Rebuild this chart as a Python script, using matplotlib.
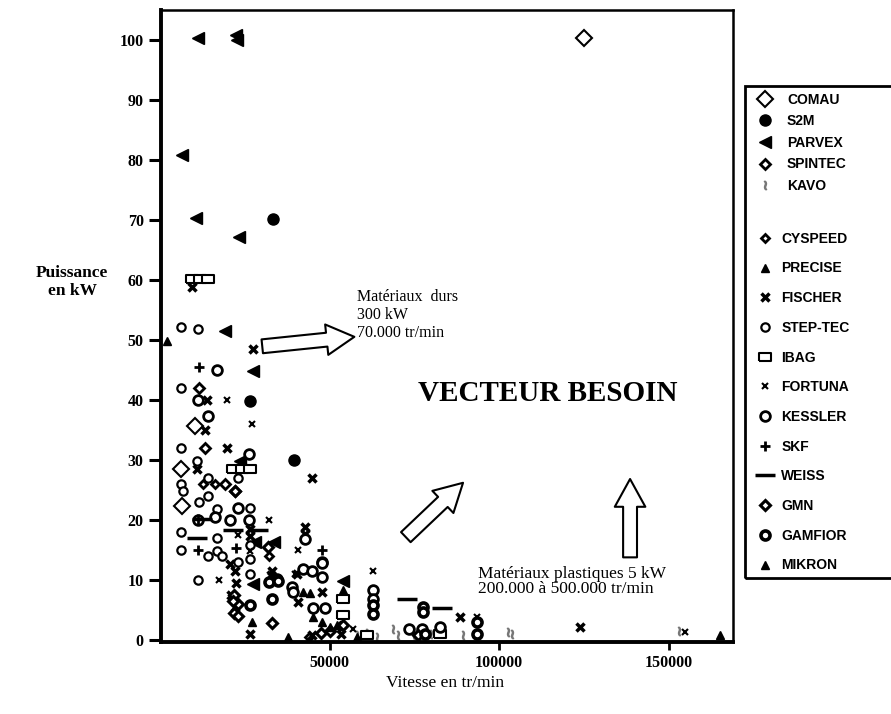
import matplotlib
matplotlib.use("Agg")
import matplotlib.pyplot as plt
from matplotlib.patches import Rectangle

# vitesse (tr/min) / puissance (kW)
comau_x = [125000, 10300, 6200, 6500]
comau_y = [100.3, 35.7, 28.5, 22.4]

s2m_x = [33300, 39500, 26500]
s2m_y = [70.2, 30.0, 39.8]

parvex_x = [11300, 22300, 22600, 6500, 10700, 23200, 19200, 27300, 23600, 28000, 33600, 27300, 54000]
parvex_y = [100.3, 100.9, 100.1, 80.8, 70.4, 67.2, 51.6, 44.8, 29.9, 16.4, 16.3, 9.4, 9.8]

spintec_x = [11500, 13300, 19200, 22100]
spintec_y = [42.1, 32.0, 26.1, 24.9]

kavo_x = [58000, 61000, 68800, 70300, 75000, 80000, 89500, 102700, 103700, 153000, 64000]
kavo_y = [0.8, 1.2, 1.9, 0.8, 0.8, 1.1, 0.8, 1.4, 1.1, 1.6, 0.6]

cyspeed_x = [12800, 16200, 32200, 31900, 32900, 44000, 53000]
cyspeed_y = [26.1, 26.1, 14.1, 15.5, 2.9, 0.6, 2.3]

precise_x = [2000, 27000, 37900, 165200, 45000, 58000]
precise_y = [49.8, 3.1, 0.6, 0.8, 3.9, 0.5]

fischer_x = [9500, 27300, 14000, 19700, 13300, 44700, 10800, 26500, 26500, 20600, 22100, 32900,
             32600, 40300, 40800, 42800, 42800, 47700, 26500, 44700, 123900, 88500, 21000, 22000,
             22500, 53500]
fischer_y = [58.9, 48.5, 40.1, 32.0, 35.0, 27.1, 28.5, 18.5, 17.3, 12.7, 11.6, 11.6,
             10.8, 11.1, 6.4, 18.8, 17.7, 8.0, 1.1, 0.8, 2.2, 3.9, 7.5, 5.5,
             9.5, 1.0]

steptec_x = [6100, 6100, 6100, 6100, 6900, 6100, 6100, 11100, 10800, 14300, 11500, 16700, 11300,
             14300, 16700, 18300, 14300, 23100, 16700, 26500, 26500, 26500, 23100, 26500]
steptec_y = [52.2, 42.1, 32.0, 26.1, 24.9, 18.0, 15.1, 51.9, 29.9, 24.1, 23.0, 21.9, 10.1,
             14.1, 14.9, 14.1, 27.1, 27.1, 17.0, 15.8, 13.6, 11.1, 13.0, 22.0]

ibag_x = [9300, 11800, 14200, 21600, 24100, 26500, 54000, 54000, 61000, 82600]
ibag_y = [60.2, 60.2, 60.2, 28.6, 28.6, 28.6, 6.9, 4.2, 0.9, 1.1]

fortuna_x = [19900, 27000, 32200, 26500, 17400, 40800, 39800, 57000, 62900, 93400, 154900, 23000]
fortuna_y = [40.0, 36.1, 20.1, 14.9, 10.0, 15.0, 11.1, 1.9, 11.6, 3.9, 1.4, 17.5]

kessler_x = [16700, 11300, 14300, 11300, 16200, 20600, 26300, 23100, 26300, 42800, 47700, 42300,
             44700, 47700, 34400, 38800, 39300, 48700, 45000, 62900, 62900, 73300, 77200, 82600, 47700]
kessler_y = [45.1, 40.1, 37.3, 20.0, 20.5, 20.0, 20.1, 22.0, 31.0, 16.9, 13.0, 11.9,
             11.6, 10.5, 10.2, 8.9, 8.0, 5.4, 5.3, 8.3, 6.9, 1.9, 1.9, 2.2, 12.9]

skf_x = [11500, 11300, 47700, 11300, 22300]
skf_y = [45.5, 15.1, 15.1, 20.2, 15.3]

weiss_x = [11000, 21500, 28900, 72800, 83100, 12500]
weiss_y = [17.1, 18.3, 18.3, 6.9, 5.3, 20.2]

gmn_x = [22100, 31900, 32900, 21800, 23000, 21800, 54000, 76000, 47500, 50000, 21500, 23000]
gmn_y = [24.9, 15.5, 2.9, 7.5, 6.0, 4.5, 2.5, 0.8, 1.2, 1.5, 6.5, 4.0]

gamfior_x = [62900, 62900, 32200, 34900, 26500, 32900, 78200, 93400, 93400, 77700, 77700]
gamfior_y = [5.8, 4.4, 9.7, 9.8, 5.8, 6.9, 1.1, 3.0, 1.1, 5.5, 4.7]

mikron_x = [42300, 44200, 47700, 50200, 52200, 54000]
mikron_y = [8.0, 7.8, 3.1, 2.2, 2.5, 8.3]

plt.rcParams['font.family'] = ['Liberation Serif', 'DejaVu Serif']

rect = [(-1.6, -1), (1.6, -1), (1.6, 1), (-1.6, 1), (-1.6, -1)]

groupe1 = [
    ("COMAU", comau_x, comau_y, dict(marker='D', ms=8, mfc='white', mec='k', mew=1.5)),
    ("S2M", s2m_x, s2m_y, dict(marker='o', ms=8, mfc='k', mec='k')),
    ("PARVEX", parvex_x, parvex_y, dict(marker='<', ms=9, mfc='k', mec='k')),
    ("SPINTEC", spintec_x, spintec_y, dict(marker='D', ms=5, mfc='white', mec='k', mew=2)),
    ("KAVO", kavo_x, kavo_y, dict(marker=r'$\wr$', ms=6, mfc='#777777', mec='#777777')),
]
groupe2 = [
    ("CYSPEED", cyspeed_x, cyspeed_y, dict(marker='D', ms=4.5, mfc='white', mec='k', mew=2)),
    ("PRECISE", precise_x, precise_y, dict(marker='^', ms=6, mfc='k', mec='k')),
    ("FISCHER", fischer_x, fischer_y, dict(marker='x', ms=6, mec='k', mew=2.5)),
    ("STEP-TEC", steptec_x, steptec_y, dict(marker='o', ms=6, mfc='white', mec='k', mew=1.6)),
    ("IBAG", ibag_x, ibag_y, dict(marker=rect, ms=9, mfc='white', mec='k', mew=1.5)),
    ("FORTUNA", fortuna_x, fortuna_y, dict(marker='x', ms=5, mec='k', mew=1.5)),
    ("KESSLER", kessler_x, kessler_y, dict(marker='o', ms=7, mfc='white', mec='k', mew=2)),
    ("SKF", skf_x, skf_y, dict(marker='+', ms=7, mec='k', mew=2)),
    ("WEISS", weiss_x, weiss_y, dict(marker='_', ms=14, mec='k', mew=2.5)),
    ("GMN", gmn_x, gmn_y, dict(marker='D', ms=5, mfc='white', mec='k', mew=2.2)),
    ("GAMFIOR", gamfior_x, gamfior_y, dict(marker='o', ms=6.5, mfc='white', mec='k', mew=2.6)),
    ("MIKRON", mikron_x, mikron_y, dict(marker='^', ms=5.5, mfc='k', mec='k')),
]

fig = plt.figure(figsize=(8.91, 7.14), dpi=100)
ax = fig.add_axes([0.1807, 0.1008, 0.642, 0.885])

h1, h2 = [], []
for nom, xs, ys, st in groupe1:
    h1.append(ax.plot(xs, ys, ls='none', label=nom, **st)[0])
for nom, xs, ys, st in groupe2:
    h2.append(ax.plot(xs, ys, ls='none', label=nom, **st)[0])

ax.set_xlim(300, 169000)
ax.set_ylim(-0.3, 105)
ax.set_xticks([50000, 100000, 150000])
ax.set_yticks(range(0, 101, 10))
ax.tick_params(axis='y', direction='out', width=2.2, length=9, labelsize=11.5)
ax.tick_params(axis='x', direction='out', width=2, length=6, labelsize=11.5)
for lab in ax.get_xticklabels() + ax.get_yticklabels():
    lab.set_fontweight('bold')
for s in ['left', 'bottom']:
    ax.spines[s].set_linewidth(2.8)
for s in ['top', 'right']:
    ax.spines[s].set_linewidth(1.8)

fig.text(0.081, 0.605, "Puissance\nen kW", ha='center', va='center', fontsize=12.5,
         fontweight='bold', linespacing=1.2)
fig.text(0.5, 0.043, "Vitesse en tr/min", ha='center', va='center', fontsize=12.5)

ax.text(0.6757, 0.394, "VECTEUR BESOIN", transform=ax.transAxes, ha='center', va='center',
        fontsize=21, fontweight='bold')
ax.text(0.3427, 0.5174, "Matériaux  durs\n300 kW\n70.000 tr/min", transform=ax.transAxes,
        ha='left', va='center', fontsize=11.5, linespacing=1.2)
ax.text(0.554, 0.0957, "Matériaux plastiques 5 kW\n200.000 à 500.000 tr/min", transform=ax.transAxes,
        ha='left', va='center', fontsize=12.5, linespacing=0.95)

fleche = dict(arrowstyle="simple,head_width=1.1,head_length=1.0,tail_width=0.5",
              fc='white', ec='black', lw=1.5, mutation_scale=20, shrinkA=0, shrinkB=0)
ax.annotate("", xy=(0.338, 0.483), xytext=(0.177, 0.468), xycoords='axes fraction', arrowprops=fleche)
ax.annotate("", xy=(0.528, 0.252), xytext=(0.428, 0.166), xycoords='axes fraction', arrowprops=fleche)
ax.annotate("", xy=(0.82, 0.258), xytext=(0.82, 0.134), xycoords='axes fraction', arrowprops=fleche)

# cadre de legende + deux groupes
fig.patches.append(Rectangle((0.836, 0.1905), 0.17, 0.689, transform=fig.transFigure,
                             fill=False, ec='k', lw=2))
police = dict(family='Liberation Sans', weight='bold', size=10)
fig.legend(handles=h1, loc='upper left', bbox_to_anchor=(0.838, 0.884), frameon=False,
           prop=police, labelspacing=0.55, handlelength=1.2, handletextpad=1.0, borderpad=0.2)
fig.legend(handles=h2, loc='upper left', bbox_to_anchor=(0.838, 0.689), frameon=False,
           prop=police, labelspacing=1.13, handlelength=1.2, handletextpad=0.6, borderpad=0.2)

fig.savefig("out.png", dpi=100)
